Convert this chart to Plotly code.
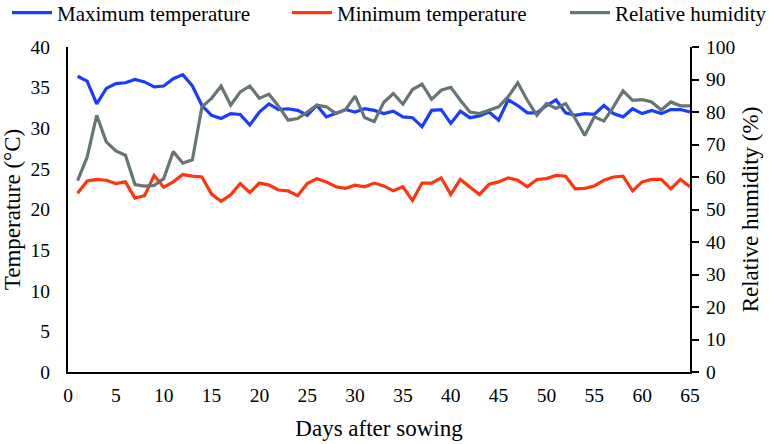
import plotly.graph_objects as go

days = list(range(1, 66))

max_temp = [36.4, 35.8, 33.0, 34.9, 35.5, 35.6, 36.0, 35.7, 35.1, 35.2, 36.1,
            36.6, 35.2, 32.8, 31.6, 31.2, 31.8, 31.7, 30.4, 32.0, 33.0, 32.3,
            32.4, 32.2, 31.6, 32.8, 31.4, 31.9, 32.3, 32.0, 32.4, 32.2, 31.8,
            32.1, 31.4, 31.3, 30.2, 32.2, 32.3, 30.6, 32.1, 31.3, 31.5, 32.0,
            31.0, 33.5, 32.8, 31.9, 31.9, 32.8, 33.5, 31.9, 31.6, 31.8, 31.7,
            32.8, 31.8, 31.4, 32.4, 31.8, 32.2, 31.8, 32.3, 32.3, 32.0]

min_temp = [22.0, 23.5, 23.7, 23.6, 23.2, 23.4, 21.4, 21.7, 24.2, 22.75, 23.4,
            24.3, 24.1, 24.0, 21.9, 21.0, 21.8, 23.2, 22.1, 23.25, 23.0, 22.4,
            22.3, 21.7, 23.2, 23.8, 23.4, 22.8, 22.6, 23.0, 22.8, 23.25, 22.9,
            22.3, 22.8, 21.1, 23.25, 23.25, 23.9, 21.85, 23.7, 22.8, 21.85, 23.1,
            23.4, 23.9, 23.6, 22.8, 23.7, 23.8, 24.2, 24.1, 22.55, 22.6, 22.9,
            23.6, 24.0, 24.1, 22.3, 23.4, 23.7, 23.7, 22.55, 23.7, 22.8]

humidity = [58.9, 66.1, 79.0, 70.8, 68.0, 66.7, 57.7, 57.2, 57.4, 59.5, 67.8,
            64.3, 65.3, 81.6, 84.2, 88.0, 82.1, 86.2, 88.0, 84.2, 85.5, 81.8,
            77.5, 78.0, 80.0, 82.1, 81.6, 79.5, 80.7, 84.9, 78.3, 77.0, 83.0,
            85.7, 82.4, 86.9, 88.6, 83.9, 86.7, 87.6, 83.6, 80.0, 79.5, 80.5,
            81.6, 84.7, 89.0, 83.6, 79.0, 82.6, 81.1, 82.6, 78.0, 72.8, 78.5,
            77.2, 81.6, 86.5, 83.6, 83.8, 83.1, 80.6, 83.1, 81.9, 81.9]

x_ticks = list(range(0, 70, 5))
left_ticks = list(range(0, 45, 5))
right_ticks = list(range(0, 110, 10))

FONT = "Times New Roman, Liberation Serif, DejaVu Serif, serif"
W, H = 773, 444

fig = go.Figure()
fig.add_trace(go.Scatter(x=days, y=max_temp, mode="lines", name="Maximum temperature",
                         line=dict(color="#1a3cff", width=3.2), legend="legend"))
fig.add_trace(go.Scatter(x=days, y=min_temp, mode="lines", name="Minimum temperature",
                         line=dict(color="#ff3510", width=3.2), legend="legend2"))
fig.add_trace(go.Scatter(x=days, y=humidity, mode="lines", name="Relative humidity",
                         line=dict(color="#677573", width=3.2), yaxis="y2", legend="legend3"))


def leg(xpx):
    return dict(orientation="h", x=xpx / W, xanchor="left", xref="container",
                y=1 - 13 / H, yanchor="middle", yref="container",
                font=dict(size=21, family=FONT), itemwidth=40,
                bgcolor="rgba(0,0,0,0)")


fig.update_layout(
    width=W, height=H,
    margin=dict(l=68, r=83, t=47, b=72, autoexpand=False),
    paper_bgcolor="white", plot_bgcolor="white",
    font=dict(family=FONT, size=19.5, color="black"),
    showlegend=True,
    legend=leg(7), legend2=leg(287), legend3=leg(565),
    xaxis=dict(range=[0, 65], tickvals=x_ticks, showgrid=False, zeroline=False,
               showline=True, linecolor="black", linewidth=2, ticks="",
               ticklabelstandoff=5,
               title=dict(text="Days after sowing", font=dict(size=23), standoff=14),
               tickfont=dict(size=19.5)),
    yaxis=dict(range=[0, 40], tickvals=left_ticks, showgrid=False, zeroline=False,
               showline=True, linecolor="black", linewidth=2, ticks="",
               ticklabelstandoff=12,
               title=dict(text="Temperature (°C)", font=dict(size=23), standoff=6),
               tickfont=dict(size=19.5)),
    yaxis2=dict(range=[0, 100], tickvals=right_ticks, overlaying="y", side="right",
                showgrid=False, zeroline=False, showline=True, linecolor="black",
                linewidth=2, ticks="outside", ticklen=7, tickwidth=2, tickcolor="black",
                ticklabelstandoff=3,
                title=dict(text="Relative humidity (%)", font=dict(size=23), standoff=8),
                tickfont=dict(size=19.5)),
)

fig.write_html("out.html")
